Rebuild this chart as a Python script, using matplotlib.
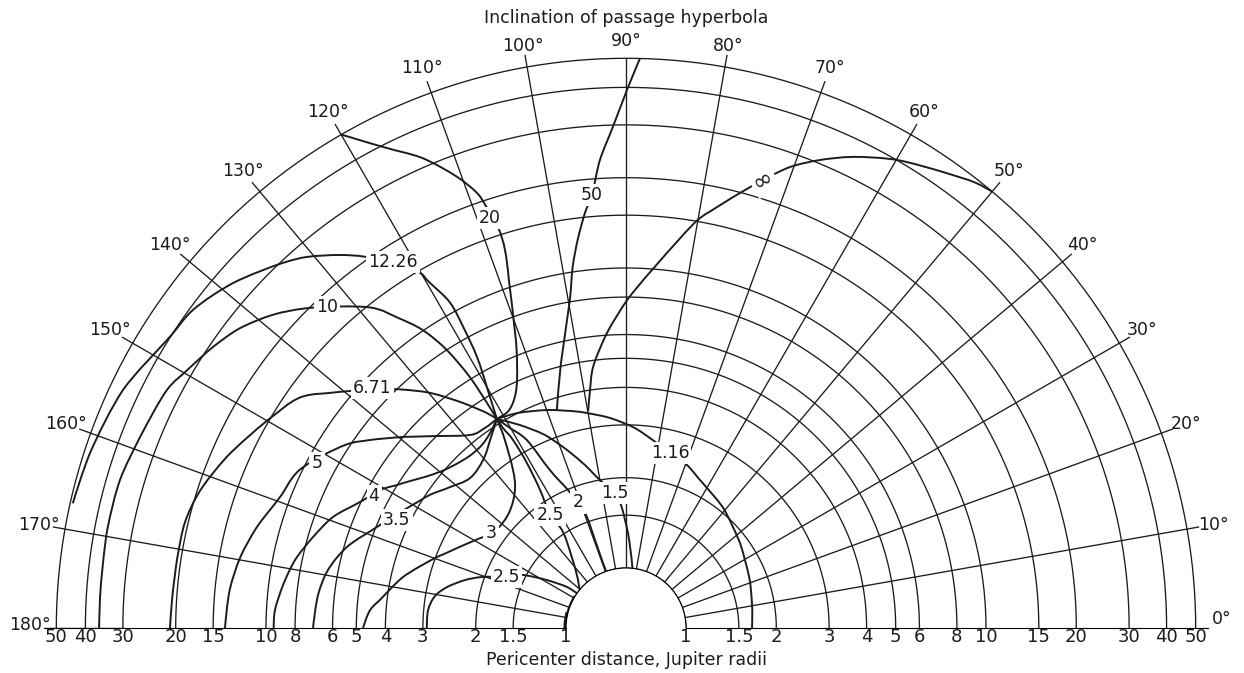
"""
Jupiter passage chart: inclination of the passage hyperbola against
pericenter distance, drawn on a half polar grid with a log radial scale.
"""

import numpy as np
import matplotlib
matplotlib.use('Agg')
import matplotlib.pyplot as plt
from matplotlib.path import Path
from matplotlib.patches import PathPatch

plt.rcParams['font.family'] = 'DejaVu Sans'

W, H, DPI = 1244, 673, 100
INK = '#1c1c1c'

# grid
ring_dist = [1, 1.5, 2, 3, 4, 5, 6, 8, 10, 15, 20, 30, 40, 50]
spoke_incl = [10, 20, 30, 40, 50, 60, 70, 80, 90, 100, 110, 120, 130, 140, 150, 160, 170, 180]
angle_labels = [0, 10, 20, 30, 40, 50, 60, 70, 80, 90, 100, 110, 120, 130, 140, 150, 160, 170, 180]

# curves (inclination deg, pericenter distance in Jupiter radii)
inf_incl = [50, 52, 55, 60, 64.3, 67.5, 70.4, 73.0, 74.3, 77.8, 80.1, 83.8, 86.9, 89.8, 93.7, 97.2, 98.6, 99.9]
inf_dist = [50, 48.5, 45, 40, 34.9, 30.8, 27.0, 23.0, 21.2, 17.2, 15.1, 11.4, 9.3, 7.82, 6.10, 4.75, 4.00, 3.42]

c50_incl = [88.6, 89.9, 91.5, 93.2, 94.5, 95.6, 97.1, 98.4, 100.1, 103.8, 107.6]
c50_dist = [50, 39.2, 29.6, 23.0, 17.7, 15.6, 12.7, 10.4, 7.70, 5.12, 3.65]

c20_incl = [120, 116.8, 113.4, 110.5, 108.9, 108.4, 107.7, 107.75, 108.6, 110.6, 112.5, 115, 118.2, 121.7]
c20_dist = [50, 39.5, 32.1, 25.4, 21.5, 19.3, 15.85, 13.3, 10.56, 7.09, 5.61, 4.66, 4.21, 4.16]

c1226_incl = [121.7, 120.0, 118.8, 118.4, 118.4, 119.6, 120.5, 124.9, 127.5, 130.7, 133.2, 138.7, 143.7, 147.9, 154.7, 161.9, 167.3]
c1226_dist = [4.16, 5.34, 6.78, 8.73, 10.77, 13.27, 15.3, 20.3, 23.3, 27.0, 29.5, 34.9, 39.0, 40.4, 45.2, 47.8, 49.0]

c10_incl = [121.7, 121.7, 121.9, 122.8, 124.3, 126.4, 128.6, 134.9, 138.4, 142.2, 145.8, 149.6, 152.6, 158.5, 163.7, 169.3, 176.6, 180]
c10_dist = [4.16, 4.81, 6.10, 7.98, 10.05, 12.2, 14.7, 20.2, 23.6, 26.9, 29.2, 31.4, 33.4, 34.7, 36.1, 36.3, 36.0, 36.0]

c671_incl = [121.7, 122.9, 125.9, 129.8, 133.7, 140.5, 144.7, 150, 156.8, 162.2, 166.5, 171, 176.1, 180]
c671_dist = [4.16, 4.50, 5.32, 6.61, 7.96, 10.9, 13.5, 15.2, 17.7, 19.6, 20.5, 20.6, 20.7, 20.9]

c5_incl = [121.7, 125.2, 128.95, 134.55, 139.4, 143.7, 146.9, 154.1, 159.3, 164.7, 169.6, 174.5, 180]
c5_dist = [4.16, 4.13, 4.24, 4.99, 6.01, 7.22, 8.27, 10.2, 10.8, 11.9, 12.8, 13.4, 13.7]

c4_incl = [121.7, 124.9, 128.9, 134.1, 140.6, 147, 150.7, 154.65, 159.25, 163.8, 168.4, 172.9, 177.1, 180]
c4_dist = [4.16, 3.91, 3.76, 3.80, 4.12, 4.86, 5.50, 6.04, 6.99, 7.70, 8.44, 8.96, 9.37, 9.43]

c35_incl = [121.7, 125.9, 130.4, 136.1, 141.3, 145.8, 150.1, 157.3, 163.8, 169, 173.9, 180]
c35_dist = [4.16, 3.74, 3.43, 3.32, 3.56, 3.89, 4.19, 4.89, 5.87, 6.49, 6.80, 6.97]

c3_incl = [121.7, 122.8, 125.6, 128.8, 133.8, 139.2, 144.7, 148.35, 154.7, 159.4, 167.1, 172.7, 176, 180]
c3_dist = [4.16, 3.51, 2.80, 2.46, 2.26, 2.19, 2.22, 2.35, 2.65, 2.97, 3.65, 4.14, 4.52, 4.75]

c25a_incl = [180, 174.8, 170.5, 167.1, 163.4, 160.5, 156.8, 153, 148.7, 145.2, 144.7]
c25a_dist = [2.91, 2.90, 2.79, 2.58, 2.29, 2.04, 1.71, 1.55, 1.28, 1.095, 1.0]

c25b_incl = [121.7, 121.6, 121, 121, 121.9, 123.7, 123.3, 127, 132.8, 140.4]
c25b_dist = [4.16, 3.82, 3.40, 2.76, 2.20, 1.81, 1.52, 1.27, 1.10, 1.0]

c2_incl = [121.7, 120.1, 117.8, 115.7, 112.8, 110.9, 109.4, 109.4, 109.5, 109.3]
c2_dist = [4.16, 3.72, 3.22, 2.42, 1.99, 1.77, 1.56, 1.29, 1.07, 1.0]

c15_incl = [121.7, 117.6, 112.8, 108.3, 104.1, 100, 94.7, 92.3, 88.8, 84.7, 83.5]
c15_dist = [4.16, 3.66, 3.15, 2.66, 2.29, 2.0, 1.78, 1.62, 1.31, 1.04, 1.0]

c116_incl = [121.7, 116.9, 109.9, 102, 94.4, 87.4, 80.5, 75.9, 69.5, 62.0, 51.3, 36.7, 19.9, 8.1, 0]
c116_dist = [4.16, 4.01, 3.74, 3.44, 3.18, 2.93, 2.66, 2.52, 2.40, 2.22, 2.07, 1.88, 1.74, 1.68, 1.66]

curve_names = ['\u221e', '50', '20', '12.26', '10', '6.71', '5', '4', '3.5', '3', '2.5', '2.5', '2', '1.5', '1.16']
label_incl = [73.0, 94.5, 108.4, 122.5, 133, 136.6, 151.9, 152.35, 154.75, 144.9, 156.8, 123.9, 110.9, 94.7, 75.9]
label_dist = [23.0, 17.7, 17.4, 17.6, 18.3, 9.22, 9.28, 5.60, 4.41, 2.24, 1.71, 1.79, 1.77, 1.78, 2.52]

curves = [
    (inf_incl, inf_dist), (c50_incl, c50_dist), (c20_incl, c20_dist),
    (c1226_incl, c1226_dist), (c10_incl, c10_dist), (c671_incl, c671_dist),
    (c5_incl, c5_dist), (c4_incl, c4_dist), (c35_incl, c35_dist),
    (c3_incl, c3_dist), (c25a_incl, c25a_dist), (c25b_incl, c25b_dist),
    (c2_incl, c2_dist), (c15_incl, c15_dist), (c116_incl, c116_dist),
]

# geometry: pole at (626, 628) px, 300 px per decade, r=1 sits 60 px out
R_ORIGIN = 10 ** -0.2
R_MAX = 10 ** 1.74          # spokes run a little past the 50 ring
S = 1164                    # square polar box, px


def label_r(px):
    # radius (in Jupiter radii) that lands px pixels from the pole
    return 10 ** (px / 300 - 0.2)


def smooth(incl, dist):
    # bezier through the read points (catmull-rom handles in theta/log r space)
    p = np.column_stack([np.radians(incl), np.log10(dist)])
    n = len(p)
    verts, codes = [p[0]], [Path.MOVETO]
    for i in range(n - 1):
        p0 = p[i - 1] if i > 0 else p[i]
        p3 = p[i + 2] if i + 2 < n else p[i + 1]
        verts += [p[i] + (p[i + 1] - p0) / 6, p[i + 1] - (p3 - p[i]) / 6, p[i + 1]]
        codes += [Path.CURVE4] * 3
    v = np.array(verts)
    v[:, 1] = 10 ** v[:, 1]
    return Path(v, codes)


fig = plt.figure(figsize=(W / DPI, H / DPI), dpi=DPI, facecolor='white')
ax = fig.add_axes([44 / W, -246 / H, S / W, S / H], projection='polar')
ax.set_thetamin(0)
ax.set_thetamax(180)
ax.set_rscale('log')
ax.set_rlim(1, R_MAX)
ax.set_rorigin(R_ORIGIN)
ax.grid(False)
ax.set_xticks([])
ax.set_yticks([])
ax.set_yticks([], minor=True)
for sp in ax.spines.values():
    sp.set_visible(False)
ax.patch.set_visible(False)

# rings
th = np.linspace(0, np.pi, 720)
for d in ring_dist:
    ax.plot(th, np.full_like(th, d), color=INK, lw=0.95, zorder=1)

# spokes
for a in spoke_incl:
    t = np.radians(a)
    if a == 90:
        r0, r1 = 1, 50
    elif a == 180:
        r0, r1 = 30, R_MAX
    else:
        r0, r1 = 1, R_MAX
    ax.plot([t, t], [r0, r1], color=INK, lw=0.95, zorder=1)

# heavy bit of the r=1 ring where the lower curves pile up
for a0, lw in [(148, 2.2), (165, 3.6)]:
    tt = np.radians(np.linspace(a0, 180, 60))
    ax.plot(tt, np.ones_like(tt), color=INK, lw=lw, zorder=2, solid_capstyle='butt')

# the curves
for incl, dist in curves:
    ax.add_patch(PathPatch(smooth(incl, dist), transform=ax.transData, fill=False,
                           edgecolor=INK, lw=1.4, joinstyle='round', zorder=2))

# curve labels
box = dict(boxstyle='square,pad=0.12', fc='white', ec='none')
for name, a, d in zip(curve_names, label_incl, label_dist):
    big = name == '\u221e'
    ax.text(np.radians(a), d, name, ha='center', va='center',
            fontsize=17 if big else 12.5, color=INK, rotation=30 if big else 0,
            bbox=box, zorder=4)

# angle labels round the rim
for a in angle_labels:
    pos = a + 0.9 if a == 0 else (a - 0.3 if a == 180 else a)
    px = 587 if a == 90 else (591 if a in (80, 100) else 596)
    ax.text(np.radians(pos), label_r(px), f'{a}\u00b0', ha='center', va='center',
            fontsize=12.5, color=INK, zorder=4)

# distance labels along the base, both sides
for d in ring_dist:
    txt = f'{d:g}'
    for t in (0, np.pi):
        ax.annotate(txt, xy=(t, d), xytext=(0, -6.5), textcoords='offset points',
                    ha='center', va='center', fontsize=13, color=INK,
                    annotation_clip=False, zorder=4)

fig.text(626 / W, 1 - 18 / H, 'Inclination of passage hyperbola', ha='center',
         va='center', fontsize=12.5, color=INK)
fig.text(626 / W, 1 - 660 / H, 'Pericenter distance, Jupiter radii', ha='center',
         va='center', fontsize=12.5, color=INK)

fig.savefig('out.png', dpi=DPI, facecolor='white')
print('saved: out.png')
